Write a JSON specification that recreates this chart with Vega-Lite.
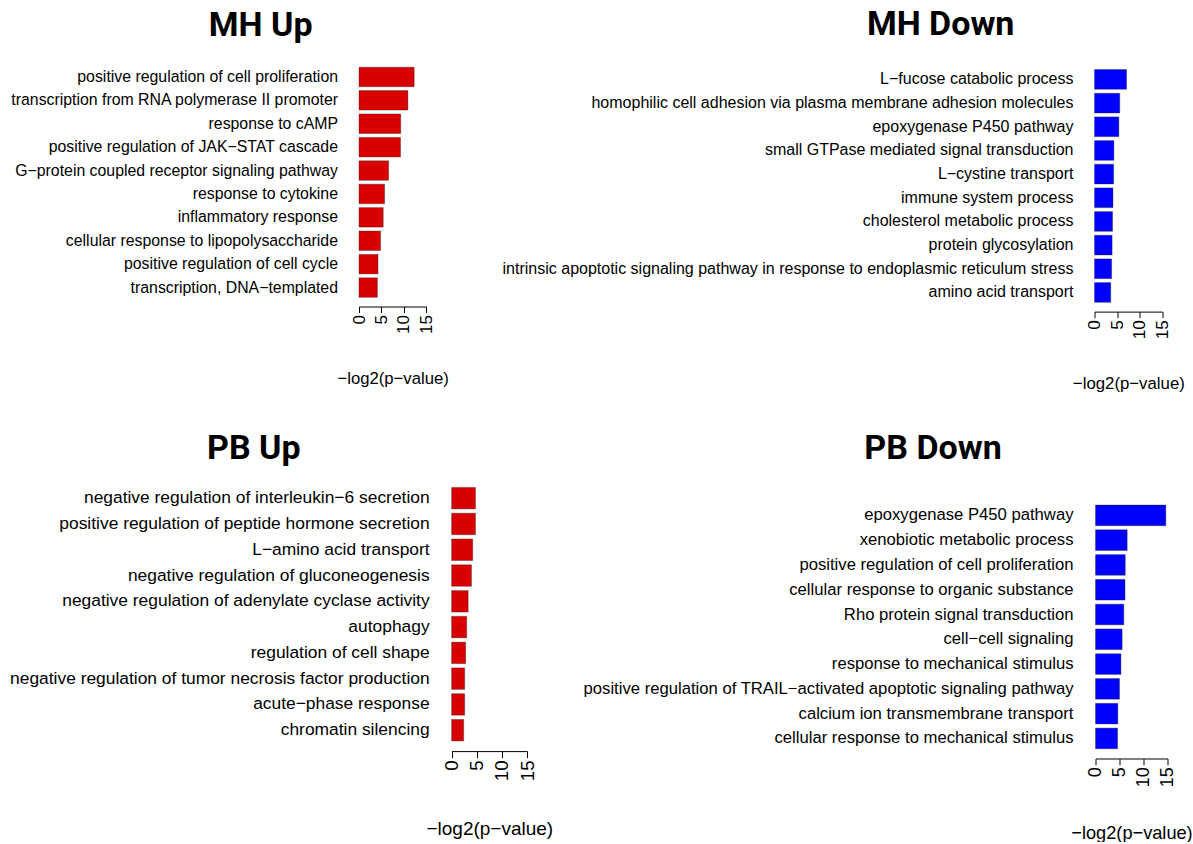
{
  "$schema": "https://vega.github.io/schema/vega-lite/v6.json",
  "padding": {"left": 9, "top": 8, "right": 0, "bottom": 0},
  "background": "white",
  "config": {
    "font": "Liberation Sans",
    "view": {"stroke": null},
    "title": {"font": "Roboto", "fontWeight": "bold", "fontSize": 34, "color": "black", "frame": "group", "anchor": "middle"},
    "axis": {"domainColor": "black", "tickColor": "black", "labelColor": "black", "titleColor": "black", "titleFontWeight": "normal", "grid": false}
  },
  "datasets": {
    "mhup": [
      {"term": "positive regulation of cell proliferation", "value": 12.3},
      {"term": "transcription from RNA polymerase II promoter", "value": 10.9},
      {"term": "response to cAMP", "value": 9.3},
      {"term": "positive regulation of JAK−STAT cascade", "value": 9.25},
      {"term": "G−protein coupled receptor signaling pathway", "value": 6.6},
      {"term": "response to cytokine", "value": 5.7},
      {"term": "inflammatory response", "value": 5.4},
      {"term": "cellular response to lipopolysaccharide", "value": 4.8},
      {"term": "positive regulation of cell cycle", "value": 4.25},
      {"term": "transcription, DNA−templated", "value": 4.1}
    ],
    "mhdown": [
      {"term": "L−fucose catabolic process", "value": 7.1},
      {"term": "homophilic cell adhesion via plasma membrane adhesion molecules", "value": 5.6},
      {"term": "epoxygenase P450 pathway", "value": 5.4},
      {"term": "small GTPase mediated signal transduction", "value": 4.3},
      {"term": "L−cystine transport", "value": 4.25},
      {"term": "immune system process", "value": 4.1},
      {"term": "cholesterol metabolic process", "value": 4.0},
      {"term": "protein glycosylation", "value": 3.9},
      {"term": "intrinsic apoptotic signaling pathway in response to endoplasmic reticulum stress", "value": 3.8},
      {"term": "amino acid transport", "value": 3.6}
    ],
    "pbup": [
      {"term": "negative regulation of interleukin−6 secretion", "value": 4.75},
      {"term": "positive regulation of peptide hormone secretion", "value": 4.75},
      {"term": "L−amino acid transport", "value": 4.2},
      {"term": "negative regulation of gluconeogenesis", "value": 3.95},
      {"term": "negative regulation of adenylate cyclase activity", "value": 3.3},
      {"term": "autophagy", "value": 3.0},
      {"term": "regulation of cell shape", "value": 2.8},
      {"term": "negative regulation of tumor necrosis factor production", "value": 2.6},
      {"term": "acute−phase response", "value": 2.6},
      {"term": "chromatin silencing", "value": 2.4}
    ],
    "pbdown": [
      {"term": "epoxygenase P450 pathway", "value": 14.65},
      {"term": "xenobiotic metabolic process", "value": 6.6},
      {"term": "positive regulation of cell proliferation", "value": 6.2},
      {"term": "cellular response to organic substance", "value": 6.15},
      {"term": "Rho protein signal transduction", "value": 5.9},
      {"term": "cell−cell signaling", "value": 5.55},
      {"term": "response to mechanical stimulus", "value": 5.3},
      {"term": "positive regulation of TRAIL−activated apoptotic signaling pathway", "value": 5.0},
      {"term": "calcium ion transmembrane transport", "value": 4.65},
      {"term": "cellular response to mechanical stimulus", "value": 4.6}
    ]
  },
  "vconcat": [
    {
      "hconcat": [
        {
          "data": {"name": "mhup"},
          "width": 67.3,
          "height": 248.5,
          "title": {"text": "MH Up", "dx": -132, "offset": 15},
          "mark": {"type": "bar", "fill": "#D80000", "stroke": "#222222", "strokeWidth": 0.7, "strokeOpacity": 0.5},
          "encoding": {
            "y": {"field": "term", "type": "nominal", "sort": null,
              "scale": {"paddingInner": 0.1667, "paddingOuter": 0.393},
              "axis": {"title": null, "domain": false, "ticks": false, "labelPadding": 21.5, "labelFontSize": 15.85, "labelLimit": 1000}},
            "x": {"field": "value", "type": "quantitative",
              "scale": {"domain": [0, 15], "nice": false},
              "axis": {"values": [0, 5, 10, 15], "labelAngle": 270, "tickSize": 6, "labelPadding": 2, "labelFontSize": 17, "title": "−log2(p−value)", "titleFontSize": 16.7, "titlePadding": 36.6}}
          }
        },
        {
          "data": {"name": "mhdown"},
          "width": 67.7,
          "height": 253.6,
          "title": {"text": "MH Down", "dx": -187.7, "offset": 16},
          "mark": {"type": "bar", "fill": "#0000FF", "stroke": "#222222", "strokeWidth": 0.7, "strokeOpacity": 0.5},
          "encoding": {
            "y": {"field": "term", "type": "nominal", "sort": null,
              "scale": {"paddingInner": 0.1667, "paddingOuter": 0.393, "range": [2.3, 253.6]},
              "axis": {"title": null, "domain": false, "ticks": false, "labelPadding": 21.5, "labelFontSize": 16.0, "labelLimit": 1000}},
            "x": {"field": "value", "type": "quantitative",
              "scale": {"domain": [0, 15], "nice": false},
              "axis": {"values": [0, 5, 10, 15], "labelAngle": 270, "tickSize": 6, "labelPadding": 2, "labelFontSize": 17.2, "title": "−log2(p−value)", "titleFontSize": 16.8, "titlePadding": 36.3}}
          }
        }
      ],
      "spacing": 52.5
    },
    {
      "hconcat": [
        {
          "data": {"name": "pbup"},
          "width": 168,
          "height": 273.8,
          "title": {"text": "PB Up", "dx": -189.2, "offset": 11.6},
          "mark": {"type": "bar", "fill": "#D80000", "stroke": "#222222", "strokeWidth": 0.7, "strokeOpacity": 0.5},
          "encoding": {
            "y": {"field": "term", "type": "nominal", "sort": null,
              "scale": {"paddingInner": 0.1667, "paddingOuter": 0.393},
              "axis": {"title": null, "domain": false, "ticks": false, "offset": -92.6, "labelPadding": 22.5, "labelFontSize": 17.4, "labelLimit": 1000}},
            "x": {"field": "value", "type": "quantitative",
              "scale": {"domain": [0, 15], "nice": false, "range": [92.6, 168]},
              "axis": {"values": [0, 5, 10, 15], "labelAngle": 270, "tickSize": 6.6, "labelPadding": 2.2, "labelFontSize": 18.7, "title": "−log2(p−value)", "titleFontSize": 19, "titlePadding": 38.4}}
          }
        },
        {
          "data": {"name": "pbdown"},
          "width": 72,
          "height": 281.2,
          "title": {"text": "PB Down", "dx": -198.5, "offset": 11.6},
          "mark": {"type": "bar", "fill": "#0000FF", "stroke": "#222222", "strokeWidth": 0.7, "strokeOpacity": 0.5},
          "encoding": {
            "y": {"field": "term", "type": "nominal", "sort": null,
              "scale": {"paddingInner": 0.1667, "paddingOuter": 0.393, "range": [18, 281.2]},
              "axis": {"title": null, "domain": false, "ticks": false, "labelPadding": 22.5, "labelFontSize": 16.67, "labelLimit": 1000}},
            "x": {"field": "value", "type": "quantitative",
              "scale": {"domain": [0, 15], "nice": false},
              "axis": {"values": [0, 5, 10, 15], "labelAngle": 270, "tickSize": 6.3, "labelPadding": 2.1, "labelFontSize": 17.9, "title": "−log2(p−value)", "titleFontSize": 18.2, "titlePadding": 37.6}}
          }
        }
      ],
      "spacing": 29.5
    }
  ],
  "spacing": 39.3
}
